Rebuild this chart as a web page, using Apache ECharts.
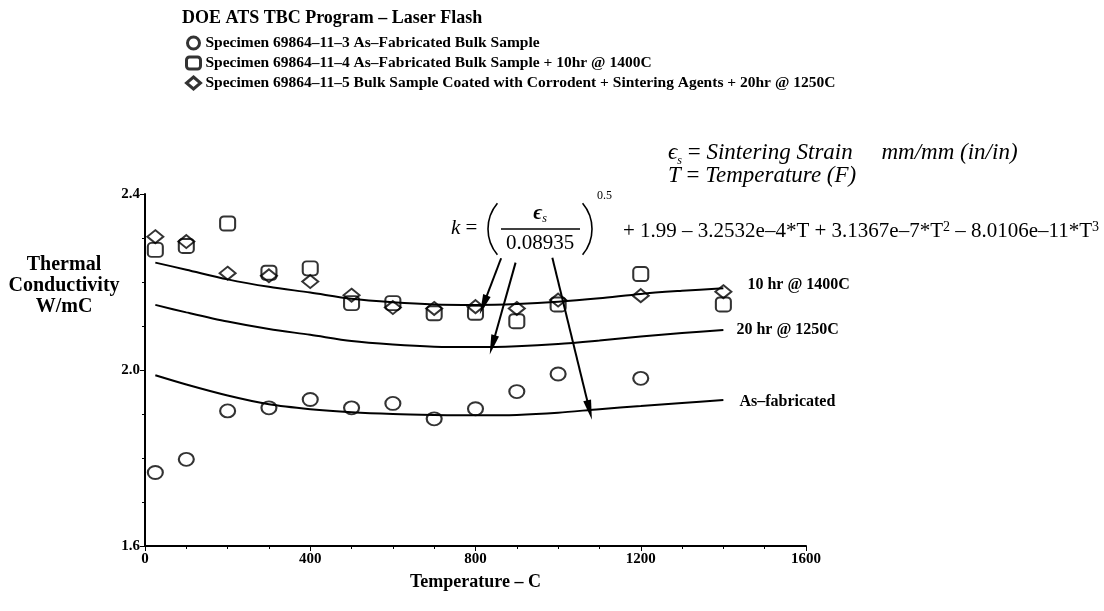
<!DOCTYPE html>
<html>
<head>
<meta charset="utf-8">
<script src="https://cdn.jsdelivr.net/npm/echarts@6/dist/echarts.min.js"></script>
<style>
html, body { margin: 0; padding: 0; background: #fff; }
#chart { width: 1104px; height: 611px; }
</style>
</head>
<body>
<div id="chart"></div>
<script>
// measured specimens (temperature C, conductivity W/mC)
var circleTemps = [25, 100, 200, 300, 400, 500, 600, 700, 800, 900, 1000, 1200];
var circleK = [1.767, 1.797, 1.907, 1.914, 1.933, 1.914, 1.924, 1.889, 1.912, 1.951, 1.991, 1.981];
var squareTemps = [25, 100, 200, 300, 400, 500, 600, 700, 800, 900, 1000, 1200, 1400];
var squareK = [2.273, 2.282, 2.333, 2.221, 2.231, 2.152, 2.152, 2.129, 2.130, 2.111, 2.149, 2.218, 2.149];
var diamondTemps = [25, 100, 200, 300, 400, 500, 600, 700, 800, 900, 1000, 1200, 1400];
var diamondK = [2.303, 2.292, 2.220, 2.214, 2.201, 2.170, 2.142, 2.140, 2.144, 2.140, 2.159, 2.169, 2.178];

// model curves
var curveTemps = [25, 100, 200, 300, 400, 500, 600, 700, 800, 900, 1000, 1100, 1200, 1300, 1400];
var curve10hr = [2.244, 2.228, 2.206, 2.189, 2.176, 2.162, 2.154, 2.149, 2.148, 2.150, 2.155, 2.163, 2.173, 2.180, 2.186];
var curve20hr = [2.148, 2.131, 2.110, 2.093, 2.080, 2.066, 2.058, 2.053, 2.052, 2.054, 2.059, 2.067, 2.076, 2.084, 2.091];
var curveAsFab = [1.988, 1.967, 1.942, 1.922, 1.911, 1.904, 1.900, 1.898, 1.897, 1.898, 1.903, 1.911, 1.918, 1.925, 1.932];

// arrows from the formula down to the curves
var arrowFrom = [[862, 2.254], [897, 2.244], [986, 2.255]];
var arrowTo = [[819, 2.148], [841, 2.057], [1076, 1.909]];

var xTicks = [0, 400, 800, 1200, 1600];

var serif = '"Liberation Serif", "DejaVu Serif", serif';

function pairs(xs, ys) {
	return xs.map(function (x, i) { return [x, ys[i]]; });
}

var chart = echarts.init(document.getElementById('chart'));

var markerStyle = {
	color: 'rgba(0,0,0,0)',
	borderColor: '#000',
	borderWidth: 2
};

function curve(name, label, data, distance, offset) {
	return {
		name: name,
		type: 'line',
		data: pairs(curveTemps, data),
		smooth: 0.3,
		showSymbol: false,
		silent: true,
		lineStyle: { color: '#000', width: 2 },
		endLabel: {
			show: true,
			formatter: label,
			distance: distance,
			offset: offset,
			color: '#000',
			fontFamily: serif,
			fontWeight: 'bold',
			fontSize: 16
		}
	};
}

var arrowLine = curve('asfab', 'As\u2013fabricated', curveAsFab, 16, [0, 2]);
arrowLine.markLine = {
	silent: true,
	symbol: ['none', 'triangle'],
	symbolSize: [8, 20],
	lineStyle: { color: '#000', width: 2, type: 'solid' },
	label: { show: false },
	data: arrowFrom.map(function (p, i) {
		return [{ coord: p }, { coord: arrowTo[i] }];
	})
};

var fText = 'italic 21px ' + serif;
var nText = '21px ' + serif;
var lText = 'italic 23px ' + serif;
var lnText = '23px ' + serif;

chart.setOption({
	animation: false,
	title: {
		text: 'DOE ATS TBC Program \u2013 Laser Flash',
		left: 177,
		top: 4,
		textStyle: { fontFamily: serif, fontWeight: 'bold', fontSize: 18, color: '#000' }
	},
	legend: {
		data: [
			'Specimen 69864\u201311\u20133 As\u2013Fabricated Bulk Sample',
			'Specimen 69864\u201311\u20134 As\u2013Fabricated Bulk Sample + 10hr @ 1400C',
			'Specimen 69864\u201311\u20135 Bulk Sample Coated with Corrodent + Sintering Agents + 20hr @ 1250C'
		],
		orient: 'vertical',
		left: 180,
		top: 30,
		itemGap: 4,
		itemWidth: 14,
		itemHeight: 12,
		selectedMode: false,
		itemStyle: { borderWidth: 3 },
		textStyle: { fontFamily: serif, fontWeight: 'bold', fontSize: 15.5, color: '#000' }
	},
	grid: { left: 145, right: 298, top: 194, bottom: 65 },
	xAxis: {
		type: 'value',
		min: 0,
		max: 1600,
		interval: 400,
		name: 'Temperature \u2013 C',
		nameLocation: 'middle',
		nameGap: 27,
		nameTextStyle: { fontFamily: serif, fontWeight: 'bold', fontSize: 18, color: '#000' },
		axisLine: { lineStyle: { color: '#000', width: 2 } },
		axisTick: { length: 5, lineStyle: { color: '#000' } },
		minorTick: { show: true, splitNumber: 4, length: 3, lineStyle: { color: '#000' } },
		splitLine: { show: false },
		axisLabel: {
			color: '#000', fontFamily: serif, fontWeight: 'bold', fontSize: 15, margin: 6,
			formatter: function (v) { return xTicks.indexOf(v) >= 0 ? String(v) : ''; }
		}
	},
	yAxis: {
		type: 'value',
		min: 1.6,
		max: 2.4,
		interval: 0.4,
		axisLine: { show: true, lineStyle: { color: '#000', width: 2 } },
		axisTick: { show: true, length: 5, lineStyle: { color: '#000' } },
		minorTick: { show: true, splitNumber: 4, length: 3, lineStyle: { color: '#000' } },
		splitLine: { show: false },
		axisLabel: {
			color: '#000', fontFamily: serif, fontWeight: 'bold', fontSize: 15, margin: 5,
			formatter: function (v) { return v.toFixed(1); }
		}
	},
	graphic: [
		{
			type: 'text', x: 64, y: 286,
			style: {
				text: 'Thermal\nConductivity\nW/mC',
				font: 'bold 20px ' + serif, fill: '#000',
				align: 'center', verticalAlign: 'middle', lineHeight: 21
			}
		},
		{
			type: 'text', x: 668, y: 153,
			style: {
				text: '{it|\u03f5}{sub|s}{n| = }{it|Sintering Strain     mm/mm (in/in)}',
				fill: '#000', verticalAlign: 'middle',
				rich: {
					it: { font: lText },
					n: { font: lnText },
					sub: { font: 'italic 12px ' + serif, verticalAlign: 'bottom', padding: [0, 0, -2, 0] }
				}
			}
		},
		{
			type: 'text', x: 668, y: 176,
			style: {
				text: '{it|T}{n| = }{it|Temperature (F)}',
				fill: '#000', verticalAlign: 'middle',
				rich: { it: { font: lText }, n: { font: lnText } }
			}
		},
		{
			type: 'text', x: 451, y: 228,
			style: {
				text: '{it|k}{n| = }',
				fill: '#000', verticalAlign: 'middle',
				rich: { it: { font: fText }, n: { font: nText } }
			}
		},
		{
			type: 'arc',
			shape: { cx: 528, cy: 229, r: 40, startAngle: Math.PI - 0.7, endAngle: Math.PI + 0.7 },
			style: { stroke: '#000', fill: null, lineWidth: 1.6 }
		},
		{
			type: 'arc',
			shape: { cx: 552, cy: 229, r: 40, startAngle: -0.7, endAngle: 0.7 },
			style: { stroke: '#000', fill: null, lineWidth: 1.6 }
		},
		{
			type: 'text', x: 540, y: 214,
			style: {
				text: '{it|\u03f5}{sub|s}',
				fill: '#000', align: 'center', verticalAlign: 'middle',
				rich: {
					it: { font: 'bold italic 21px ' + serif },
					sub: { font: 'italic 12px ' + serif, verticalAlign: 'bottom' }
				}
			}
		},
		{
			type: 'line',
			shape: { x1: 501, y1: 229, x2: 580, y2: 229 },
			style: { stroke: '#000', lineWidth: 1.3 }
		},
		{
			type: 'text', x: 540, y: 243,
			style: { text: '0.08935', font: nText, fill: '#000', align: 'center', verticalAlign: 'middle' }
		},
		{
			type: 'text', x: 597, y: 196,
			style: { text: '0.5', font: '12px ' + serif, fill: '#000', verticalAlign: 'middle' }
		},
		{
			type: 'text', x: 623, y: 231,
			style: {
				text: '{n|+ 1.99 \u2013 3.2532e\u20134*T + 3.1367e\u20137*T}{sup|2}{n| \u2013 8.0106e\u201311*T}{sup|3}',
				fill: '#000', verticalAlign: 'middle',
				rich: {
					n: { font: '21px ' + serif },
					sup: { font: '14px ' + serif, verticalAlign: 'top' }
				}
			}
		}
	],
	series: [
		{
			name: 'Specimen 69864\u201311\u20133 As\u2013Fabricated Bulk Sample',
			type: 'scatter',
			symbol: 'circle',
			symbolSize: [15, 13],
			data: pairs(circleTemps, circleK),
			itemStyle: markerStyle,
			z: 3
		},
		{
			name: 'Specimen 69864\u201311\u20134 As\u2013Fabricated Bulk Sample + 10hr @ 1400C',
			type: 'scatter',
			symbol: 'roundRect',
			symbolSize: [15, 14],
			data: pairs(squareTemps, squareK),
			itemStyle: markerStyle,
			z: 3
		},
		{
			name: 'Specimen 69864\u201311\u20135 Bulk Sample Coated with Corrodent + Sintering Agents + 20hr @ 1250C',
			type: 'scatter',
			symbol: 'diamond',
			symbolSize: [16, 13],
			data: pairs(diamondTemps, diamondK),
			itemStyle: markerStyle,
			z: 3
		},
		curve('10hr', '10 hr @ 1400C', curve10hr, 24, [0, -3]),
		curve('20hr', '20 hr @ 1250C', curve20hr, 13, [0, 0]),
		arrowLine
	]
});
</script>
</body>
</html>
